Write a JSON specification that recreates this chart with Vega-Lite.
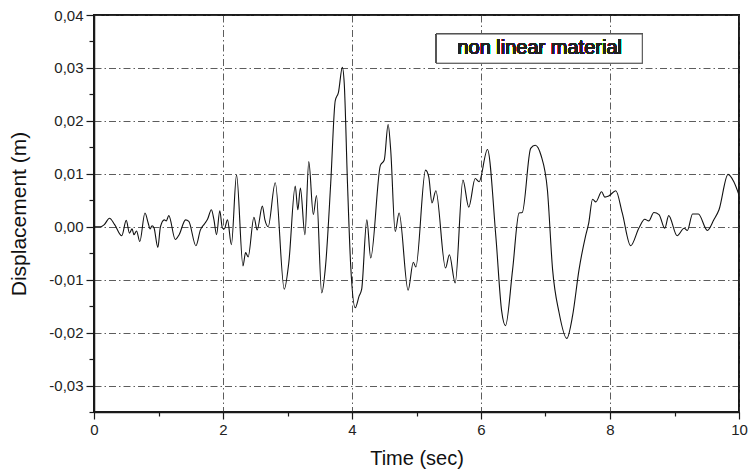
{
  "$schema": "https://vega.github.io/schema/vega-lite/v6.json",
  "width": 645,
  "height": 397,
  "autosize": "none",
  "padding": {"left": 94, "top": 15, "right": 9, "bottom": 58},
  "background": "white",
  "config": {
    "locale": {"number": {"decimal": ",", "thousands": ".", "grouping": [3], "currency": ["", ""], "minus": "-"}},
    "view": {"stroke": "#1a1a1a", "strokeWidth": 2},
    "font": "Liberation Sans",
    "axis": {
      "labelFont": "Liberation Sans",
      "titleFont": "Liberation Sans",
      "labelFontSize": 15,
      "titleFontWeight": "normal",
      "labelColor": "#222",
      "titleColor": "#111",
      "domainColor": "#1a1a1a",
      "domainWidth": 1.5,
      "tickColor": "#1a1a1a",
      "tickWidth": 1.2,
      "gridColor": "#333",
      "gridWidth": 0.8,
      "gridDash": [7, 3, 1.5, 3]
    }
  },
  "data": {
    "values": [
      {"t": 0.00, "d": 0},
      {"t": 0.10, "d": 0},
      {"t": 0.16, "d": 0.0004},
      {"t": 0.24, "d": 0.0016},
      {"t": 0.32, "d": 0.0004},
      {"t": 0.43, "d": -0.0017},
      {"t": 0.50, "d": 0.0012},
      {"t": 0.55, "d": -0.0012},
      {"t": 0.59, "d": -0.0004},
      {"t": 0.62, "d": -0.0015},
      {"t": 0.66, "d": -0.0008},
      {"t": 0.71, "d": -0.0028},
      {"t": 0.79, "d": 0.0026},
      {"t": 0.84, "d": 0.0007},
      {"t": 0.87, "d": -0.0004},
      {"t": 0.90, "d": 0.0002},
      {"t": 0.93, "d": -0.0002},
      {"t": 0.99, "d": -0.0039},
      {"t": 1.03, "d": 0.0},
      {"t": 1.09, "d": 0.0013},
      {"t": 1.12, "d": 0.0011},
      {"t": 1.16, "d": 0.0021},
      {"t": 1.26, "d": -0.0024},
      {"t": 1.32, "d": -0.0015},
      {"t": 1.42, "d": 0.0013},
      {"t": 1.47, "d": 0.001},
      {"t": 1.58, "d": -0.0036},
      {"t": 1.65, "d": -0.0006},
      {"t": 1.71, "d": 0.0005},
      {"t": 1.76, "d": 0.0014},
      {"t": 1.82, "d": 0.0032},
      {"t": 1.86, "d": 0.0013},
      {"t": 1.90, "d": -0.0015},
      {"t": 1.95, "d": 0.003},
      {"t": 1.99, "d": -0.0002},
      {"t": 2.02, "d": -0.0004},
      {"t": 2.07, "d": 0.0013},
      {"t": 2.13, "d": -0.0034},
      {"t": 2.21, "d": 0.0098},
      {"t": 2.31, "d": -0.0074},
      {"t": 2.35, "d": -0.0049},
      {"t": 2.39, "d": -0.0057},
      {"t": 2.48, "d": 0.0018},
      {"t": 2.53, "d": -0.0006},
      {"t": 2.61, "d": 0.0039},
      {"t": 2.65, "d": 0.0013},
      {"t": 2.70, "d": 0.0},
      {"t": 2.81, "d": 0.0083},
      {"t": 2.95, "d": -0.0118},
      {"t": 3.02, "d": -0.0068},
      {"t": 3.12, "d": 0.0077},
      {"t": 3.16, "d": 0.0032},
      {"t": 3.20, "d": 0.0073},
      {"t": 3.27, "d": -0.0015},
      {"t": 3.33, "d": 0.0123},
      {"t": 3.40, "d": 0.0023},
      {"t": 3.45, "d": 0.0059},
      {"t": 3.53, "d": -0.0125},
      {"t": 3.59, "d": -0.0074},
      {"t": 3.67, "d": 0.0082},
      {"t": 3.74, "d": 0.0238},
      {"t": 3.79, "d": 0.0254},
      {"t": 3.85, "d": 0.0301},
      {"t": 3.88, "d": 0.027},
      {"t": 3.93, "d": 0.0082},
      {"t": 3.98, "d": -0.0074},
      {"t": 4.05, "d": -0.0153},
      {"t": 4.11, "d": -0.0131},
      {"t": 4.15, "d": -0.0118},
      {"t": 4.23, "d": 0.0013},
      {"t": 4.29, "d": -0.0059},
      {"t": 4.44, "d": 0.0116},
      {"t": 4.50, "d": 0.0126},
      {"t": 4.56, "d": 0.0193},
      {"t": 4.60, "d": 0.0145},
      {"t": 4.67, "d": -0.0009},
      {"t": 4.73, "d": 0.0026},
      {"t": 4.87, "d": -0.012},
      {"t": 4.95, "d": -0.0067},
      {"t": 4.99, "d": -0.0076},
      {"t": 5.14, "d": 0.0107},
      {"t": 5.19, "d": 0.0094},
      {"t": 5.24, "d": 0.0045},
      {"t": 5.30, "d": 0.0068},
      {"t": 5.45, "d": -0.0078},
      {"t": 5.51, "d": -0.0053},
      {"t": 5.60, "d": -0.0106},
      {"t": 5.72, "d": 0.0088},
      {"t": 5.81, "d": 0.0037},
      {"t": 5.91, "d": 0.0091},
      {"t": 5.97, "d": 0.0085},
      {"t": 6.10, "d": 0.0146},
      {"t": 6.23, "d": -0.0018},
      {"t": 6.32, "d": -0.0159},
      {"t": 6.38, "d": -0.0187},
      {"t": 6.49, "d": -0.0081},
      {"t": 6.59, "d": 0.0026},
      {"t": 6.64, "d": 0.0027},
      {"t": 6.77, "d": 0.0148},
      {"t": 6.84, "d": 0.0154},
      {"t": 6.93, "d": 0.0135},
      {"t": 7.03, "d": 0.0069},
      {"t": 7.11, "d": -0.0081},
      {"t": 7.21, "d": -0.0162},
      {"t": 7.33, "d": -0.0211},
      {"t": 7.42, "d": -0.0168},
      {"t": 7.52, "d": -0.0081},
      {"t": 7.62, "d": -0.0018},
      {"t": 7.67, "d": 0.0007},
      {"t": 7.73, "d": 0.0052},
      {"t": 7.78, "d": 0.0047},
      {"t": 7.87, "d": 0.0066},
      {"t": 7.92, "d": 0.0056},
      {"t": 7.98, "d": 0.0058},
      {"t": 8.09, "d": 0.0068},
      {"t": 8.19, "d": 0.0026},
      {"t": 8.32, "d": -0.0036},
      {"t": 8.45, "d": -0.0002},
      {"t": 8.54, "d": 0.0014},
      {"t": 8.60, "d": 0.0011},
      {"t": 8.68, "d": 0.0027},
      {"t": 8.76, "d": 0.0023},
      {"t": 8.85, "d": -0.0003},
      {"t": 8.91, "d": 0.0021},
      {"t": 9.04, "d": -0.0017},
      {"t": 9.15, "d": -0.0003},
      {"t": 9.20, "d": -0.0007},
      {"t": 9.28, "d": 0.0024},
      {"t": 9.37, "d": 0.0024},
      {"t": 9.51, "d": -0.0007},
      {"t": 9.61, "d": 0.0013},
      {"t": 9.69, "d": 0.0032},
      {"t": 9.83, "d": 0.0099},
      {"t": 9.92, "d": 0.0085},
      {"t": 10.0, "d": 0.006}
    ]
  },
  "layer": [
    {
      "mark": {"type": "line", "color": "#111", "strokeWidth": 1.1, "interpolate": "monotone", "clip": true},
      "encoding": {
        "x": {
          "field": "t", "type": "quantitative",
          "scale": {"domain": [0, 10], "nice": false, "zero": false},
          "axis": {
            "title": "Time (sec)",
            "titleFontSize": 20,
            "format": "d",
            "values": [0, 1, 2, 3, 4, 5, 6, 7, 8, 9, 10],
            "labelExpr": "datum.value % 2 === 0 ? datum.label : ''",
            "tickSize": {"condition": {"test": "datum.value % 2 === 0", "value": 7}, "value": 4},
            "gridOpacity": {"condition": {"test": "datum.value % 2 === 0", "value": 1}, "value": 0},
            "labelPadding": 3,
            "titlePadding": 11,
            "labelFlush": false
          }
        },
        "y": {
          "field": "d", "type": "quantitative",
          "scale": {"domain": [-0.035, 0.04], "nice": false, "zero": false},
          "axis": {
            "title": "Displacement (m)",
            "titleFontSize": 21,
            "format": ".2f",
            "values": [-0.03, -0.02, -0.01, 0, 0.01, 0.02, 0.03, 0.04],
            "tickSize": 8,
            "grid": true,
            "labelPadding": 3,
            "titlePadding": 19,
            "labelFlush": false
          }
        }
      }
    },
    {
      "mark": {"type": "rect", "fill": "white", "stroke": "#555", "strokeWidth": 1},
      "encoding": {
        "x": {"datum": 5.31, "type": "quantitative"},
        "x2": {"datum": 8.5},
        "y": {
          "datum": 0.0364, "type": "quantitative",
          "axis": {
            "orient": "left",
            "title": null,
            "values": [-0.035, -0.025, -0.015, -0.005, 0.005, 0.015, 0.025, 0.035],
            "labels": false,
            "grid": false,
            "domain": false,
            "tickSize": 5
          }
        },
        "y2": {"datum": 0.0309}
      }
    },
    {
      "mark": {"type": "text", "text": "non linear material", "font": "Liberation Sans", "fontSize": 20, "color": "#222", "align": "center", "baseline": "middle"},
      "encoding": {
        "x": {"datum": 6.91, "type": "quantitative"},
        "y": {"datum": 0.0337, "type": "quantitative", "axis": null}
      }
    }
  ],
  "resolve": {"axis": {"y": "independent"}}
}
